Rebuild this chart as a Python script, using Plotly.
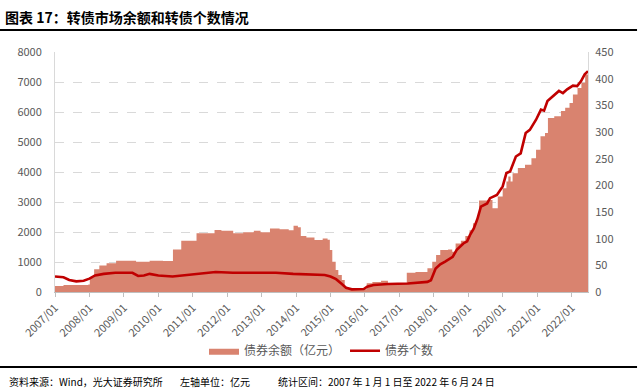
import plotly.graph_objects as go

# 债券余额（亿元）
area_dates = ["2007-01-01","2007-04-01","2007-12-20","2008-01-05","2008-02-20","2008-04-15","2008-07-01",
    "2008-10-10","2009-05-10","2009-10-01","2010-02-20","2010-06-05","2010-09-01","2011-02-10","2011-08-20",
    "2011-11-01","2012-03-05","2012-06-20","2012-10-10","2012-12-20","2013-03-30","2013-07-10","2013-10-15",
    "2013-12-05","2014-01-20","2014-02-20","2014-04-20","2014-07-15","2014-10-10","2014-12-01","2014-12-25",
    "2015-01-20","2015-02-25","2015-03-25","2015-05-01","2015-06-01","2015-07-01","2016-01-20","2016-03-20",
    "2016-06-20","2016-09-01","2017-03-20","2017-06-20","2017-10-25","2017-12-15","2018-01-25","2018-03-10",
    "2018-06-01","2018-07-15","2018-08-20","2018-10-15","2018-12-01","2019-01-15","2019-02-20","2019-03-25",
    "2019-04-25","2019-08-15","2019-09-15","2019-11-10","2020-01-01","2020-02-10","2020-03-01","2020-03-25",
    "2020-04-15","2020-06-10","2020-08-25","2020-11-01","2020-12-20","2021-02-05","2021-03-25","2021-04-25",
    "2021-07-01","2021-09-10","2021-10-25","2021-12-10","2022-01-15","2022-03-05","2022-04-15","2022-05-25",
    "2022-06-24"]
area_values = [200,230,250,490,755,880,955,
    1045,1010,1045,1030,1420,1710,1955,2065,
    2045,1955,1990,2045,1990,2120,2090,2060,
    2210,2160,1870,1820,1735,1780,1740,1400,
    1010,735,565,400,155,90,290,333,
    377,290,645,665,790,1010,1230,1400,
    1420,1340,1620,1710,1865,2060,2290,2455,
    3050,3070,2790,3180,3460,3680,3850,3680,
    3960,4130,4240,4460,4740,5190,5300,5800,
    5860,6030,6140,6300,6580,6800,6975,7250,
    7365]

# 债券个数
count_dates = ["2007-01-01","2007-04-01","2007-06-01","2007-08-15","2007-11-01","2008-01-01","2008-03-01",
    "2008-06-01","2008-10-01","2009-04-01","2009-06-01","2009-08-01","2009-10-01","2010-01-01","2010-06-01",
    "2010-09-01","2011-01-01","2011-05-01","2011-09-01","2012-03-01","2012-09-01","2013-06-01","2013-12-01",
    "2014-06-01","2014-11-01","2015-01-01","2015-03-01","2015-05-01","2015-06-15","2015-08-15","2015-12-20",
    "2016-01-25","2016-04-01","2016-09-01","2017-04-01","2017-10-25","2017-12-01","2018-01-20","2018-03-10",
    "2018-05-01","2018-07-20","2018-09-01","2018-11-10","2018-12-20","2019-01-20","2019-03-01","2019-04-10",
    "2019-05-15","2019-07-20","2019-08-20","2019-11-01","2020-01-01","2020-02-10","2020-03-20","2020-05-20",
    "2020-07-10","2020-09-01","2020-10-15","2020-12-20","2021-02-10","2021-03-15","2021-04-20","2021-06-20",
    "2021-08-20","2021-10-01","2021-11-15","2022-01-15","2022-03-01","2022-04-10","2022-05-20","2022-06-24"]
count_values = [29,27.5,22.5,20,21,25,31,
    34,36,36,30,31,34,31,29,
    31,32.5,35,37.5,36,36,36,34,
    32.5,32,29,24,15,8,5,5.5,
    10,13,15,16,19,22,44,52,
    57,66,79,91,95,107,119,138,
    160,166,176,182,198,223,226,254,
    260,298,304,323,342,340,358,367,
    377,373,380,387,386,395,408,414]

year_ticks = [f"{y}-01-01" for y in range(2007, 2023)]
year_labels = [f"{y}/01" for y in range(2007, 2023)]

FONT = "Noto Sans CJK SC"
GRAY = "#595959"

fig = go.Figure()
fig.add_trace(go.Scatter(
    x=area_dates, y=area_values, name="债券余额（亿元）",
    mode="lines", line=dict(width=0, shape="hv", color="#D9836F"),
    fill="tozeroy", fillcolor="#D9836F", yaxis="y"))
fig.add_trace(go.Scatter(
    x=count_dates, y=count_values, name="债券个数",
    mode="lines", line=dict(width=2.6, color="#C00000"), yaxis="y2"))

fig.update_layout(
    width=640, height=392,
    margin=dict(l=55, r=52, t=52, b=100, autoexpand=False),
    paper_bgcolor="white", plot_bgcolor="white",
    font=dict(family=FONT, size=11, color=GRAY),
    showlegend=True,
    legend=dict(orientation="h", x=0.50, xanchor="center", y=-0.245, yanchor="middle",
                font=dict(size=12, color=GRAY), itemwidth=30, traceorder="normal"),
    xaxis=dict(type="date", range=["2007-01-01", "2022-06-24"], automargin=False,
               tickvals=year_ticks, ticktext=year_labels, tickangle=-45,
               ticks="outside", ticklen=4, tickcolor="#BFBFBF",
               showline=True, linecolor="#BFBFBF", showgrid=False,
               tickfont=dict(size=11, color=GRAY)),
    yaxis=dict(range=[0, 8000], dtick=1000, showgrid=True, gridcolor="#D9D9D9", automargin=False,
               griddash="dash", showline=True, linecolor="#D9D9D9", zeroline=False,
               ticks="", tickfont=dict(size=11, color=GRAY), ticklabelstandoff=10),
    yaxis2=dict(range=[0, 450], dtick=50, overlaying="y", side="right", automargin=False,
                showgrid=False, showline=True, linecolor="#D9D9D9", zeroline=False,
                tickfont=dict(size=11, color=GRAY), ticklabelstandoff=4),
)

# title
fig.add_annotation(text="<b>图表 17：转债市场余额和转债个数情况</b>", xref="paper", yref="paper",
                   x=-0.098, y=1.146, xanchor="left", yanchor="middle", showarrow=False,
                   font=dict(family=FONT, size=14, color="#000000"))
fig.add_shape(type="line", xref="paper", yref="paper", x0=-0.104, x1=1.092, y0=1.0917, y1=1.0917,
              line=dict(color="#000000", width=2))
# footer
fig.add_shape(type="line", xref="paper", yref="paper", x0=-0.104, x1=1.092, y0=-0.3125, y1=-0.3125,
              line=dict(color="#000000", width=2))
footer = [("资料来源：Wind，光大证券研究所", 7), ("左轴单位：亿元", 178), ("统计区间：2007 年 1 月 1 日至 2022 年 6 月 24 日", 276)]
for txt, px in footer:
    fig.add_annotation(text=txt, xref="paper", yref="paper", x=(px - 55) / 533, y=-0.371,
                       xanchor="left", yanchor="middle", showarrow=False,
                       font=dict(family=FONT, size=10, color="#000000"))

fig.write_html("out.html", config={"displayModeBar": False},
               post_script="document.body.style.margin='0';document.body.style.overflow='hidden';")
